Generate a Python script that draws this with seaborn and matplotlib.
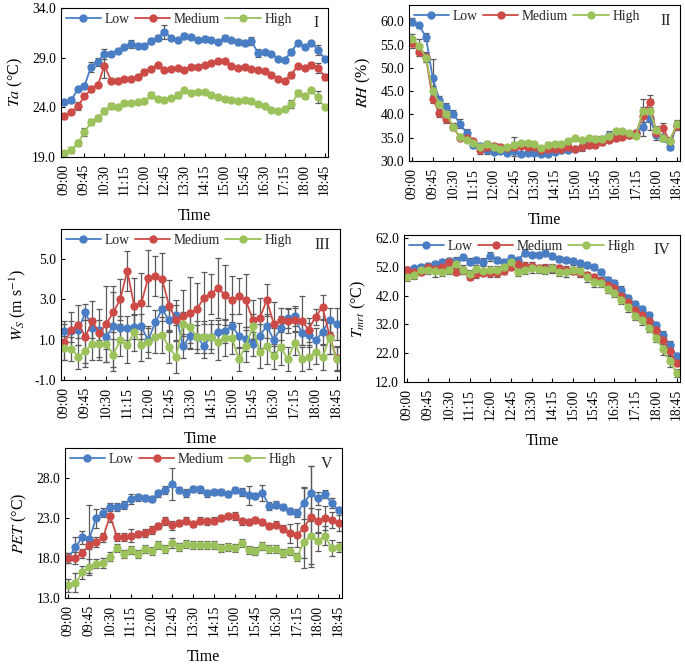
import pandas as pd
import matplotlib
matplotlib.use("Agg")
import matplotlib.pyplot as plt
import seaborn as sns

# time axis: 09:00 .. 18:45 every 15 min
times = pd.date_range("2020-01-01 09:00", periods=40, freq="15min").strftime("%H:%M").tolist()
levels = ["Low", "Medium", "High"]
colors = ["#4a7ec4", "#cd4b47", "#9cc25c"]

# Panel I - air temperature
ta_low = [24.5, 24.7, 25.8, 26.1, 28.1, 28.6, 29.4, 29.4, 29.7, 30.1, 30.4, 30.2, 30.2, 30.7, 31.0, 31.6, 31.0, 30.8, 31.2, 31.1,
          30.8, 30.9, 30.8, 30.6, 31.0, 30.8, 30.6, 30.5, 30.7, 29.5, 29.6, 29.4, 28.9, 28.8, 29.6, 30.5, 30.1, 30.5, 29.8, 28.9]
ta_med = [23.1, 23.5, 24.1, 25.1, 25.8, 26.2, 28.2, 26.7, 26.7, 26.9, 26.9, 27.1, 27.6, 27.9, 28.3, 27.8, 27.9, 28.0, 27.8, 28.1,
          28.1, 28.3, 28.5, 28.7, 28.7, 28.2, 28.0, 28.1, 27.9, 27.8, 27.7, 27.3, 26.9, 26.7, 27.3, 28.2, 28.0, 28.3, 28.0, 27.1]
ta_high = [19.4, 19.7, 20.4, 21.5, 22.5, 22.9, 23.6, 24.1, 24.0, 24.4, 24.4, 24.5, 24.6, 25.2, 24.8, 24.7, 24.9, 25.2, 25.7, 25.4,
           25.5, 25.5, 25.2, 25.0, 24.8, 24.7, 24.6, 24.7, 24.6, 24.3, 24.1, 23.7, 23.6, 23.8, 24.3, 25.4, 25.1, 25.7, 25.0, 24.0]
ta_low_err = [0.2, 0.3, 0.2, 0.2, 0.5, 0.4, 0.5, 0.2, 0.2, 0.2, 0.4, 0.2, 0.2, 0.3, 0.3, 0.7, 0.2, 0.2, 0.3, 0.2,
              0.2, 0.3, 0.2, 0.2, 0.3, 0.2, 0.3, 0.3, 0.4, 0.4, 0.2, 0.2, 0.2, 0.2, 0.3, 0.2, 0.2, 0.2, 0.5, 0.2]
ta_med_err = [0.3, 0.2, 0.4, 0.2, 0.3, 0.2, 1.2, 0.3, 0.3, 0.2, 0.2, 0.2, 0.3, 0.2, 0.2, 0.2, 0.2, 0.2, 0.2, 0.2,
              0.2, 0.2, 0.2, 0.2, 0.2, 0.2, 0.2, 0.2, 0.2, 0.2, 0.2, 0.2, 0.2, 0.2, 0.3, 0.2, 0.2, 0.3, 0.5, 0.3]
ta_high_err = [0.2, 0.3, 0.3, 0.4, 0.3, 0.3, 0.3, 0.3, 0.2, 0.2, 0.2, 0.2, 0.2, 0.3, 0.2, 0.2, 0.2, 0.3, 0.2, 0.2,
               0.2, 0.2, 0.2, 0.2, 0.2, 0.2, 0.2, 0.2, 0.2, 0.2, 0.2, 0.2, 0.2, 0.2, 0.4, 0.3, 0.2, 0.2, 0.6, 0.2]

# Panel II - relative humidity
rh_low = [59.9, 59.1, 56.6, 47.8, 43.1, 41.7, 40.2, 38.0, 36.0, 33.5, 33.3, 32.4, 32.0, 32.2, 31.8, 32.1, 31.5, 31.8, 31.8, 31.5,
          31.5, 32.0, 32.3, 32.4, 32.6, 33.1, 33.8, 34.2, 34.5, 35.6, 35.2, 35.4, 35.6, 36.0, 37.4, 39.2, 35.6, 35.0, 33.1, 37.8]
rh_med = [55.3, 53.4, 52.3, 43.3, 40.3, 39.0, 37.4, 35.0, 35.0, 34.2, 32.4, 33.1, 33.3, 33.1, 32.8, 33.1, 33.3, 33.1, 33.1, 32.4,
          32.6, 32.6, 32.6, 33.1, 32.6, 33.1, 33.5, 33.5, 34.0, 34.5, 34.9, 35.2, 35.6, 36.1, 39.6, 42.6, 36.1, 37.0, 34.2, 37.5]
rh_high = [56.2, 54.8, 52.2, 45.0, 42.3, 40.2, 37.4, 35.2, 34.6, 33.9, 33.1, 33.7, 33.1, 32.6, 33.0, 33.5, 33.9, 33.8, 33.6, 32.7,
           33.5, 33.6, 33.6, 34.2, 34.9, 34.5, 34.9, 34.8, 34.8, 35.4, 36.4, 36.4, 36.0, 35.4, 40.8, 40.8, 36.6, 35.0, 34.4, 38.0]
rh_low_err = [0.8, 0.6, 0.8, 4.2, 0.8, 0.8, 0.8, 1.0, 0.8, 0.8, 0.5, 1.0, 0.5, 0.5, 0.5, 0.5, 0.5, 0.5, 0.5, 0.5,
              0.5, 0.5, 0.5, 0.5, 0.5, 1.0, 1.0, 0.5, 0.8, 0.8, 0.5, 0.5, 0.5, 0.5, 2.0, 2.5, 1.0, 0.8, 0.8, 0.8]
rh_med_err = [1.0, 0.8, 1.0, 0.8, 0.8, 0.8, 0.8, 0.5, 0.5, 0.5, 1.0, 0.5, 0.5, 0.5, 0.5, 2.0, 0.5, 0.5, 0.5, 0.5,
              0.5, 0.5, 0.5, 0.5, 0.5, 0.5, 0.5, 0.5, 0.5, 0.5, 0.5, 0.5, 0.5, 0.5, 2.0, 1.5, 1.0, 1.2, 0.8, 0.8]
rh_high_err = [1.0, 1.5, 1.0, 1.0, 0.8, 0.8, 0.8, 0.5, 0.5, 0.5, 0.5, 0.5, 0.5, 0.5, 0.5, 0.5, 0.5, 0.5, 0.5, 0.5,
               0.5, 0.5, 0.5, 0.5, 0.5, 0.5, 0.5, 0.5, 0.5, 0.5, 0.5, 0.5, 0.5, 0.5, 2.5, 2.5, 1.0, 0.8, 0.8, 0.8]

# Panel III - wind speed
ws_low = [1.41, 1.41, 1.5, 2.36, 1.58, 1.5, 1.16, 1.66, 1.6, 1.58, 1.63, 1.66, 0.97, 1.86, 2.52, 1.96, 2.24, 0.67, 1.2, 1.13,
          0.7, 1.16, 1.38, 1.45, 1.69, 1.21, 1.05, 0.8, 1.2, 1.69, 1.0, 1.58, 2.07, 2.16, 1.33, 1.25, 0.97, 1.38, 2.0, 1.8]
ws_med = [0.87, 1.5, 1.74, 1.16, 1.91, 1.33, 1.79, 2.37, 3.0, 4.43, 2.68, 2.8, 4.07, 4.16, 4.0, 2.68, 1.99, 2.16, 2.32, 2.54,
          3.07, 3.28, 3.56, 3.23, 2.95, 3.18, 2.95, 1.99, 2.07, 2.97, 1.79, 1.96, 1.91, 1.99, 1.95, 1.5, 2.15, 2.62, 1.2, 0.08]
ws_high = [0.59, 0.55, 0.14, 0.46, 0.8, 0.8, 0.8, 0.26, 0.97, 0.75, 1.36, 0.75, 0.88, 1.16, 1.25, 0.62, 0.14, 1.79, 1.63, 1.13,
           1.13, 1.16, 0.87, 1.08, 1.08, 0.04, 0.7, 1.66, 0.39, 0.67, 0.17, 0.64, 0.04, 0.83, 0.04, 0.14, 0.37, 0.12, 1.11, 0.04]
ws_low_err = [0.5, 0.5, 0.4, 0.4, 0.5, 0.5, 0.6, 2.0, 0.6, 0.6, 0.6, 0.6, 0.6, 0.6, 0.6, 0.5, 0.5, 0.6, 0.6, 0.6,
              0.6, 0.6, 0.6, 0.6, 0.6, 0.6, 0.6, 0.6, 0.6, 0.6, 0.6, 0.6, 0.5, 0.5, 0.6, 0.6, 0.6, 0.6, 0.6, 0.8]
ws_med_err = [0.9, 0.9, 1.0, 1.3, 1.0, 1.2, 1.9, 1.0, 1.0, 1.0, 1.4, 1.5, 1.4, 1.0, 1.3, 1.3, 1.0, 1.3, 1.8, 1.3,
              1.3, 1.0, 1.5, 1.5, 1.2, 0.9, 1.3, 1.0, 1.0, 0.8, 1.1, 0.6, 0.6, 0.6, 1.2, 0.6, 0.4, 0.6, 0.9, 0.6]
ws_high_err = [0.6, 0.6, 0.6, 0.8, 0.8, 0.8, 0.9, 0.8, 0.8, 0.9, 0.9, 0.8, 0.8, 0.8, 0.9, 0.8, 0.8, 0.6, 0.8, 0.8,
               0.8, 0.8, 0.9, 0.9, 0.8, 0.6, 0.8, 0.6, 0.8, 0.9, 0.6, 0.9, 0.6, 0.6, 0.6, 0.6, 0.6, 0.6, 0.8, 0.6]

# Panel IV - mean radiant temperature
tmrt_low = [50.8, 51.4, 52.0, 52.3, 53.1, 53.5, 53.9, 53.9, 55.2, 53.7, 54.3, 53.7, 55.6, 54.3, 53.7, 54.9, 54.3, 56.9, 56.2, 56.2,
            56.6, 55.8, 54.6, 54.3, 53.9, 53.4, 52.6, 51.8, 50.3, 47.4, 46.3, 44.0, 41.3, 39.0, 37.4, 35.3, 31.8, 28.4, 24.9, 21.1]
tmrt_med = [50.8, 50.3, 50.3, 52.0, 51.2, 52.0, 53.5, 50.3, 50.8, 48.5, 49.4, 49.9, 49.7, 49.7, 50.6, 52.0, 52.9, 52.3, 52.3, 51.4,
            51.6, 51.4, 51.4, 51.0, 50.6, 49.7, 49.1, 48.3, 47.2, 45.7, 44.5, 41.9, 39.6, 37.0, 35.3, 33.3, 29.9, 26.7, 22.6, 18.6]
tmrt_high = [48.5, 49.1, 51.0, 51.0, 50.6, 50.3, 50.8, 53.1, 51.0, 49.4, 51.2, 50.6, 50.8, 50.8, 52.0, 53.7, 50.3, 50.8, 51.4, 51.2,
             51.0, 51.4, 50.3, 50.0, 51.0, 50.4, 48.3, 46.6, 46.4, 44.3, 42.9, 40.4, 37.9, 35.0, 33.4, 30.8, 27.3, 23.5, 19.2, 15.1]
tmrt_low_err = [1.0, 1.0, 1.0, 1.0, 1.0, 1.2, 1.0, 1.5, 1.0, 1.2, 1.0, 1.2, 1.5, 1.0, 1.0, 1.0, 1.0, 1.2, 1.0, 1.0,
                1.0, 1.0, 1.0, 1.0, 1.0, 1.0, 1.0, 1.0, 1.0, 1.0, 1.0, 1.2, 1.0, 1.0, 1.0, 1.0, 1.0, 1.2, 1.2, 1.0]
tmrt_med_err = [1.2, 1.2, 1.2, 1.2, 1.2, 1.2, 1.5, 1.2, 1.2, 1.2, 1.2, 1.2, 1.2, 1.2, 1.2, 1.2, 1.2, 1.2, 1.2, 1.2,
                1.2, 1.2, 1.2, 1.2, 1.2, 1.2, 1.2, 1.2, 1.2, 1.2, 1.2, 1.2, 1.2, 1.2, 1.2, 1.2, 1.2, 1.5, 1.5, 1.2]
tmrt_high_err = [1.5, 1.5, 1.5, 1.5, 2.0, 1.5, 1.5, 1.5, 1.5, 1.5, 1.5, 1.5, 1.5, 1.5, 2.0, 1.5, 1.5, 1.5, 1.5, 1.5,
                 1.5, 1.5, 1.5, 1.5, 1.5, 1.5, 1.5, 1.5, 1.5, 1.5, 1.5, 1.5, 1.5, 1.5, 1.5, 1.5, 1.5, 2.0, 2.0, 1.5]

# Panel V - PET
pet_low = [18.0, 19.4, 20.6, 20.4, 23.0, 23.7, 24.4, 24.4, 24.7, 25.4, 25.6, 25.5, 25.4, 26.1, 26.5, 27.3, 26.5, 26.1, 26.7, 26.6,
           26.1, 26.3, 26.3, 26.0, 26.5, 26.3, 25.9, 25.8, 26.2, 24.5, 24.7, 24.4, 23.9, 23.7, 24.9, 26.1, 25.5, 26.0, 24.9, 24.0]
pet_med = [18.0, 18.0, 18.6, 19.7, 20.0, 20.6, 23.3, 20.7, 20.7, 20.8, 21.0, 21.2, 21.5, 22.0, 22.6, 22.1, 22.4, 22.7, 22.3, 22.7,
           22.6, 22.7, 23.0, 23.3, 23.3, 22.6, 22.5, 22.8, 22.5, 22.0, 22.2, 21.7, 21.1, 20.9, 21.8, 23.2, 22.7, 23.0, 22.8, 22.4]
pet_high = [14.6, 14.9, 16.2, 16.9, 17.3, 17.4, 18.2, 19.3, 18.5, 19.0, 18.5, 19.1, 18.9, 19.7, 19.2, 19.9, 19.4, 19.8, 19.7, 19.7,
            19.7, 19.6, 19.3, 19.4, 19.3, 19.9, 19.0, 18.9, 19.5, 19.2, 19.2, 18.7, 18.9, 18.2, 20.0, 20.8, 20.1, 20.8, 19.3, 19.4]
pet_low_err = [0.6, 1.2, 0.8, 4.3, 1.2, 0.6, 0.5, 0.5, 0.5, 0.6, 0.4, 0.4, 0.4, 0.4, 0.5, 2.0, 0.4, 0.5, 0.4, 0.4,
               0.4, 0.4, 0.4, 0.4, 0.4, 0.5, 1.2, 0.4, 1.0, 0.5, 0.4, 0.4, 0.4, 0.5, 2.0, 3.5, 0.8, 0.5, 0.6, 0.4]
pet_med_err = [0.6, 0.8, 0.6, 0.6, 0.6, 0.6, 0.8, 0.5, 0.5, 0.8, 0.4, 0.5, 0.5, 0.4, 0.5, 0.6, 0.4, 0.4, 0.4, 0.4,
               0.4, 0.4, 0.4, 0.4, 0.5, 0.4, 0.4, 0.4, 0.4, 0.4, 0.4, 0.4, 1.2, 1.5, 5.0, 6.3, 1.5, 1.5, 1.0, 1.0]
pet_high_err = [0.8, 1.2, 0.8, 1.0, 0.6, 0.6, 0.6, 0.5, 0.5, 0.5, 0.5, 0.5, 0.5, 0.5, 0.5, 0.6, 0.5, 0.5, 0.5, 0.5,
                0.5, 0.5, 0.5, 0.5, 0.5, 0.5, 0.5, 0.5, 0.5, 0.5, 0.5, 0.5, 0.5, 0.5, 2.0, 3.5, 1.2, 1.2, 1.0, 0.6]

sns.set_theme(style="ticks")
plt.rcParams["font.family"] = ["Liberation Serif", "DejaVu Serif"]
plt.rcParams["mathtext.fontset"] = "stix"

W, H = 685, 666
fig = plt.figure(figsize=(W / 100, H / 100), dpi=100)


def box(l, t, r, b):
    return [l / W, 1 - b / H, (r - l) / W, (b - t) / H]


panels = [
    (box(61, 8, 328, 157), "I", r"$Ta$ (°C)", (ta_low, ta_med, ta_high), (ta_low_err, ta_med_err, ta_high_err),
     (19, 34), [19, 24, 29, 34]),
    (box(409, 5, 680, 161), "II", r"$RH$ (%)", (rh_low, rh_med, rh_high), (rh_low_err, rh_med_err, rh_high_err),
     (30, 63.5), [30, 35, 40, 45, 50, 55, 60]),
    (box(61, 229, 340, 380), "III", r"$W_S$ (m s$^{-1}$)", (ws_low, ws_med, ws_high), (ws_low_err, ws_med_err, ws_high_err),
     (-1, 6.5), [-1, 1, 3, 5]),
    (box(404, 235, 680, 382), "IV", r"$T_{mrt}$ (°C)", (tmrt_low, tmrt_med, tmrt_high),
     (tmrt_low_err, tmrt_med_err, tmrt_high_err), (12, 63), [12, 22, 32, 42, 52, 62]),
    (box(65, 448, 342, 598), "V", r"$PET$ (°C)", (pet_low, pet_med, pet_high), (pet_low_err, pet_med_err, pet_high_err),
     (13, 31.8), [13, 18, 23, 28]),
]

for rect, tag, ylab, series, errs, ylim, yticks in panels:
    ax = fig.add_axes(rect)
    rows = []
    for lvl, vals in zip(levels, series):
        for i, v in enumerate(vals):
            rows.append({"idx": i, "value": v, "level": lvl})
    df = pd.DataFrame(rows)
    for lvl, col, vals, err in zip(levels, colors, series, errs):
        ax.errorbar(range(len(vals)), vals, yerr=err, fmt="none", ecolor="#5a5a5a",
                    elinewidth=0.9, capsize=2.5, capthick=0.9, zorder=1)
    sns.lineplot(data=df, x="idx", y="value", hue="level", hue_order=levels, palette=colors,
                 marker="o", markersize=6, markeredgewidth=0, linewidth=1.3, ax=ax, zorder=2)
    ax.set_xlim(-0.5, 39.5)
    ax.set_ylim(*ylim)
    ax.set_yticks(yticks)
    ax.set_yticklabels([f"{t:.1f}" for t in yticks], fontsize=9.8)
    ax.set_xticks(range(0, 40, 3))
    ax.set_xticklabels(times[::3], rotation=90, fontsize=9.8)
    ax.tick_params(direction="in", length=3, width=0.8, colors="black")
    ax.tick_params(axis="x", pad=5)
    ax.tick_params(axis="y", pad=3.5)
    ax.set_xlabel("Time", fontsize=11.5, labelpad=9, color="black")
    ax.set_ylabel(ylab, fontsize=11.5, labelpad=5, color="black")
    for s in ax.spines.values():
        s.set_linewidth(0.8)
        s.set_color("black")
    ax.legend(loc="upper left", ncol=3, frameon=False, fontsize=9.8, handlelength=2.6,
              handletextpad=0.25, columnspacing=0.4, borderaxespad=0.1, borderpad=0.25)
    ax.text(0.965, 0.95, tag, transform=ax.transAxes, ha="right", va="top", fontsize=11.5)

fig.savefig("out.png", dpi=100)
